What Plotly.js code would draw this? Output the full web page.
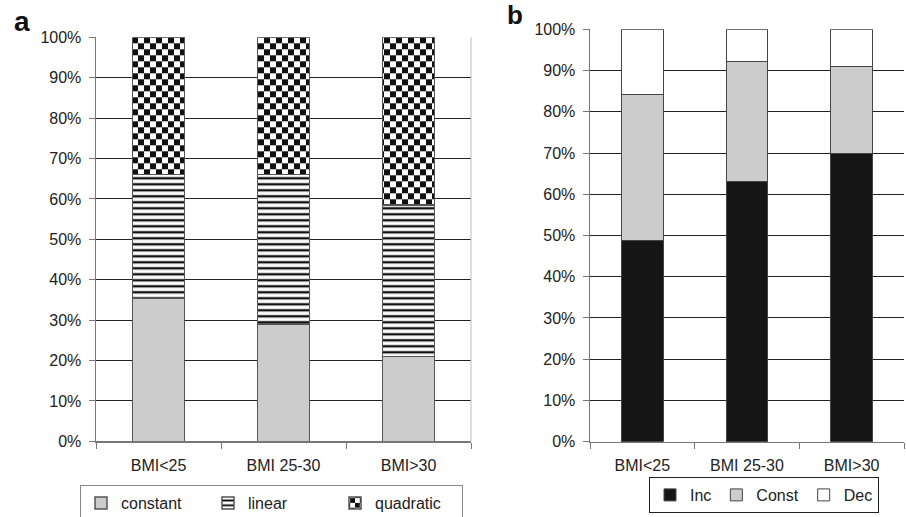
<!DOCTYPE html>
<html>
<head>
<meta charset="utf-8">
<script src="https://cdn.plot.ly/plotly-3.0.1.min.js"></script>
<style>html,body{margin:0;padding:0;background:#fff;}#chart{width:906px;height:517px;}</style>
</head>
<body>
<div id="chart"></div>
<script>
// ---- data ----
const categories = ['BMI<25', 'BMI 25-30', 'BMI>30'];
// panel a (percent of subjects by trajectory shape)
const constantVals = [35.5, 29.0, 21.0];
const linearVals = [30.5, 37.0, 37.5];
const quadraticVals = [34.0, 34.0, 41.5];
// panel b
const incVals = [48.7, 63.2, 70.0];
const constVals = [35.6, 29.1, 20.9];
const decVals = [15.7, 7.7, 9.1];
const yTickVals = [0, 10, 20, 30, 40, 50, 60, 70, 80, 90, 100];
const yTickText = ['0%', '10%', '20%', '30%', '40%', '50%', '60%', '70%', '80%', '90%', '100%'];

const FONT = 'Liberation Sans, Arial, sans-serif';
const TXT = '#222';
const outlineA = {color: '#555', width: 1.5};
const outlineB = {color: '#444', width: 1};

const traces = [
  {type: 'bar', name: 'constant', x: categories, y: constantVals, xaxis: 'x', yaxis: 'y', width: 0.416,
   marker: {color: '#cccccc', line: outlineA}, legend: 'legend'},
  {type: 'bar', name: 'linear', x: categories, y: linearVals, xaxis: 'x', yaxis: 'y', width: 0.416,
   marker: {color: '#ffffff', line: outlineA,
            pattern: {shape: '-', fgcolor: '#111', bgcolor: '#ffffff', size: 6, solidity: 0.4, fillmode: 'replace'}},
   legend: 'legend'},
  {type: 'bar', name: 'quadratic', x: categories, y: quadraticVals, xaxis: 'x', yaxis: 'y', width: 0.416,
   marker: {color: '#ffffff', line: outlineA,
            pattern: {shape: '.', fgcolor: '#111', bgcolor: '#ffffff', size: 12, solidity: 0.3, fillmode: 'replace'}},
   legend: 'legend'},
  {type: 'bar', name: 'Inc', x: categories, y: incVals, xaxis: 'x2', yaxis: 'y2', width: 0.40,
   marker: {color: '#151515', line: outlineB}, legend: 'legend2'},
  {type: 'bar', name: 'Const', x: categories, y: constVals, xaxis: 'x2', yaxis: 'y2', width: 0.40,
   marker: {color: '#cccccc', line: outlineB}, legend: 'legend2'},
  {type: 'bar', name: 'Dec', x: categories, y: decVals, xaxis: 'x2', yaxis: 'y2', width: 0.40,
   marker: {color: '#ffffff', line: outlineB}, legend: 'legend2'}
];

const yCommon = {
  range: [0, 100], tickmode: 'array', tickvals: yTickVals, ticktext: yTickText, showgrid: true,
  gridcolor: '#222', gridwidth: 1,
  zeroline: false, showline: true, linecolor: '#777', linewidth: 1.5, ticks: 'outside', ticklen: 6,
  tickcolor: '#777', tickwidth: 1, tickfont: {family: FONT, size: 16, color: TXT}, ticklabelstandoff: 4,
  fixedrange: true
};
const xCommon = {
  type: 'category', showline: true, linecolor: '#777', linewidth: 1.5, ticks: 'outside', ticklen: 6,
  tickcolor: '#777', tickwidth: 1, tickson: 'boundaries', showgrid: false, zeroline: false,
  tickfont: {family: FONT, size: 16, color: TXT}, ticklabelstandoff: 9, fixedrange: true
};

const layout = {
  width: 906, height: 517, margin: {l: 0, r: 0, t: 0, b: 0, autoexpand: false},
  paper_bgcolor: '#fff', plot_bgcolor: '#fff', barmode: 'stack', showlegend: true,
  font: {family: FONT, size: 16, color: TXT},
  xaxis: Object.assign({}, xCommon, {domain: [96 / 906, 471 / 906], anchor: 'y'}),
  yaxis: Object.assign({}, yCommon, {domain: [(517 - 441.3) / 517, (517 - 37.3) / 517], anchor: 'x'}),
  xaxis2: Object.assign({}, xCommon, {domain: [590 / 906, 904 / 906], anchor: 'y2'}),
  yaxis2: Object.assign({}, yCommon, {domain: [(517 - 441.7) / 517, (517 - 29.3) / 517], anchor: 'x2'}),
  legend: {orientation: 'h', x: 80 / 906, xanchor: 'left', y: (517 - 485) / 517, yanchor: 'top',
           bordercolor: '#888', borderwidth: 1, bgcolor: '#fff', traceorder: 'normal',
           entrywidth: 82, font: {family: FONT, size: 16, color: TXT}},
  legend2: {orientation: 'h', x: 649 / 906, xanchor: 'left', y: (517 - 477) / 517, yanchor: 'top',
            bordercolor: '#222', borderwidth: 1, bgcolor: '#fff', traceorder: 'normal',
            font: {family: FONT, size: 16, color: TXT}},
  shapes: [
    {type: 'line', xref: 'x domain', yref: 'y domain', x0: 1, x1: 1, y0: 0, y1: 1,
     line: {color: '#bbb', width: 1}}
  ],
  annotations: [
    {text: '<b>a</b>', xref: 'paper', yref: 'paper', x: 12 / 906, y: (517 - 21) / 517,
     xanchor: 'left', yanchor: 'middle', showarrow: false, font: {family: FONT, size: 28, color: '#111'}},
    {text: '<b>b</b>', xref: 'paper', yref: 'paper', x: 505 / 906, y: (517 - 15) / 517,
     xanchor: 'left', yanchor: 'middle', showarrow: false, font: {family: FONT, size: 26, color: '#111'}}
  ]
};

const gd = document.getElementById('chart');
Plotly.newPlot(gd, traces, layout, {staticPlot: true, displayModeBar: false}).then(function () {
  // turn the dot pattern into a checkerboard texture
  const NS = 'http://www.w3.org/2000/svg';
  gd.querySelectorAll('pattern').forEach(function (p) {
    if (!p.querySelector('circle')) return;
    const s = 6;
    p.setAttribute('width', 2 * s);
    p.setAttribute('height', 2 * s);
    while (p.firstChild) p.removeChild(p.firstChild);
    const mk = function (x, y, w, h, c) {
      const r = document.createElementNS(NS, 'rect');
      r.setAttribute('x', x); r.setAttribute('y', y);
      r.setAttribute('width', w); r.setAttribute('height', h);
      r.setAttribute('fill', c);
      p.appendChild(r);
    };
    mk(0, 0, 2 * s, 2 * s, '#ffffff');
    mk(0, 0, s, s, '#111111');
    mk(s, s, s, s, '#111111');
  });
});
</script>
</body>
</html>
